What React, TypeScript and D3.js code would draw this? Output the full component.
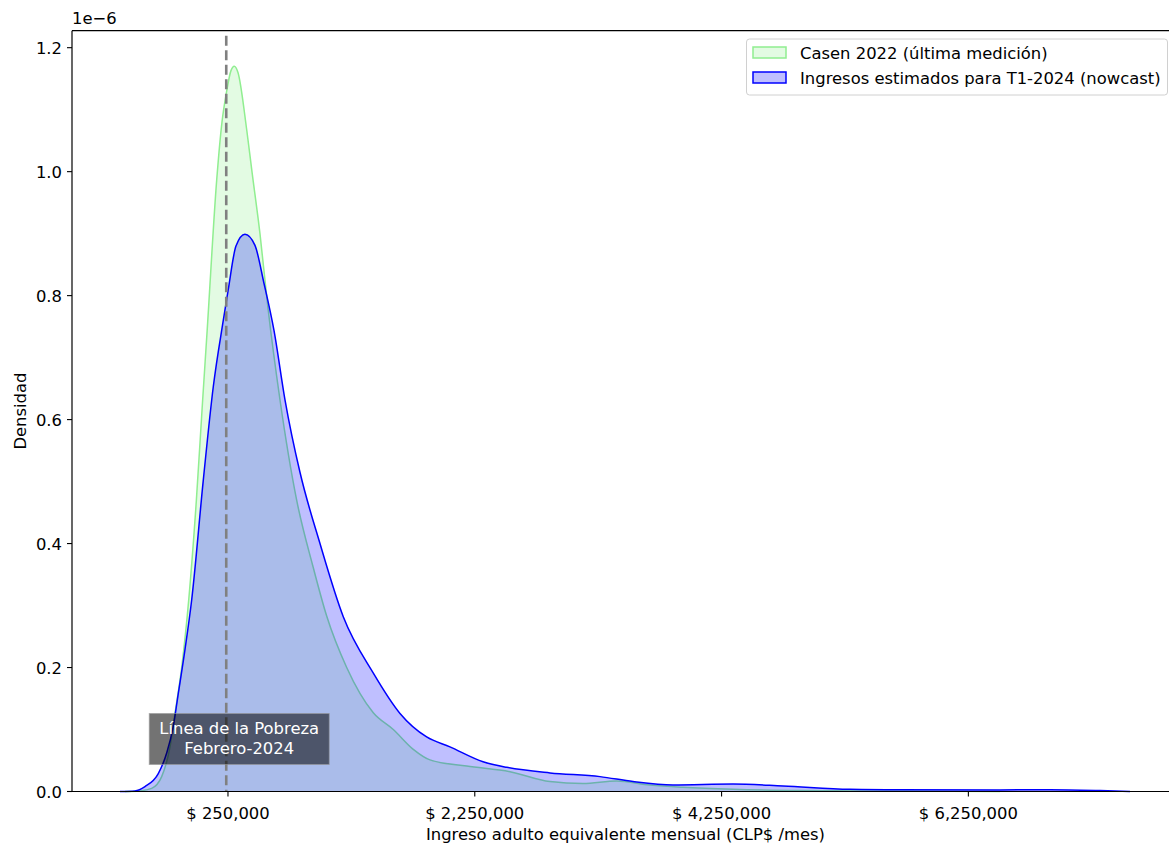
import React, {useRef, useEffect} from 'react';
import * as d3 from 'd3';

// ingreso (CLP$/mes) y densidad (en unidades de 1e-6)
const casenIncome = [-584700, -463200, -368300, -287300, -220000, -179500, -125200, -67700, -6100, 44900, 81400, 158400, 201400, 239500, 274300, 301100, 331000, 401500, 444500, 509300, 574200, 671400, 806700, 938800, 1049900, 1212000, 1427500, 1589600, 1751700, 1887000, 2184400, 2535300, 2859500, 3127000, 3400000, 3670000, 3937000, 4343000, 4886000, 5696000, 6506000];
const casenDensity = [0, 0.001, 0.005, 0.024, 0.072, 0.126, 0.2, 0.31, 0.47, 0.632, 0.744, 0.986, 1.08, 1.13, 1.163, 1.17, 1.16, 1.068, 1.0, 0.9, 0.78, 0.632, 0.47, 0.363, 0.283, 0.2, 0.127, 0.1, 0.068, 0.051, 0.041, 0.032, 0.016, 0.013, 0.017, 0.0105, 0.0068, 0.0035, 0.0016, 0.0008, 0];

const nowcastIncome = [-625200, -503700, -422600, -314800, -246800, -193300, -152800, -98500, -44200, 49800, 130900, 211900, 252400, 314800, 387700, 468800, 541700, 622800, 712000, 833500, 995600, 1184400, 1428000, 1644000, 1860000, 2049000, 2317000, 2509000, 2860000, 3265000, 3532000, 3856000, 4343000, 4748000, 5291000, 5696000, 6506000, 6911000, 7317000, 7560000];
const nowcastDensity = [0, 0.001, 0.008, 0.029, 0.062, 0.105, 0.158, 0.229, 0.309, 0.502, 0.653, 0.76, 0.81, 0.88, 0.899, 0.881, 0.82, 0.744, 0.632, 0.515, 0.4, 0.282, 0.191, 0.126, 0.088, 0.072, 0.048, 0.039, 0.03, 0.024, 0.016, 0.0105, 0.012, 0.009, 0.0035, 0.0027, 0.0025, 0.003, 0.0015, 0];

const xTicks = [250000, 2250000, 4250000, 6250000];
const yTicks = [0, 0.2, 0.4, 0.6, 0.8, 1.0, 1.2];
const povertyLine = 236000;
const legendLabels = ['Casen 2022 (última medición)', 'Ingresos estimados para T1-2024 (nowcast)'];

const W = 1169, H = 845;
const FONT = 'DejaVu Sans, sans-serif';
const FS = 16.4;

const App: React.FC = () => {
    const ref = useRef<SVGSVGElement | null>(null);

    useEffect(() => {
        const svg = d3.select(ref.current);
        svg.selectAll('*').remove();

        const left = 72, right = 1180, top = 30.7, bottom = 791.5;
        const x = d3.scaleLinear().domain([-1014000, 7965000]).range([left, right]);
        const y = d3.scaleLinear().domain([0, 1.2274]).range([bottom, top]);

        const area = d3.area<[number, number]>()
            .x(d => x(d[0])).y0(y(0)).y1(d => y(d[1]))
            .curve(d3.curveMonotoneX);
        const line = d3.line<[number, number]>()
            .x(d => x(d[0])).y(d => y(d[1]))
            .curve(d3.curveMonotoneX);

        const casen = casenIncome.map((v, i) => [v, casenDensity[i]] as [number, number]);
        const nowcast = nowcastIncome.map((v, i) => [v, nowcastDensity[i]] as [number, number]);

        const g = svg.append('g');
        // casen primero, nowcast encima
        g.append('path').attr('d', area(casen)).attr('fill', '#90ee90').attr('fill-opacity', 0.25);
        g.append('path').attr('d', line(casen)).attr('fill', 'none').attr('stroke', '#90ee90').attr('stroke-width', 1.5);
        g.append('path').attr('d', area(nowcast)).attr('fill', 'blue').attr('fill-opacity', 0.25);
        g.append('path').attr('d', line(nowcast)).attr('fill', 'none').attr('stroke', 'blue').attr('stroke-width', 1.5);

        // linea de pobreza
        g.append('line')
            .attr('x1', x(povertyLine)).attr('x2', x(povertyLine))
            .attr('y1', top + 5).attr('y2', bottom)
            .attr('stroke', '#808080').attr('stroke-width', 2.6)
            .attr('stroke-dasharray', '10,4.5');

        // caja de texto
        const bx = x(povertyLine) + 13;
        g.append('rect')
            .attr('x', bx - 90).attr('y', 713.5).attr('width', 180).attr('height', 51)
            .attr('fill', 'black').attr('fill-opacity', 0.55)
            .attr('stroke', '#999').attr('stroke-opacity', 0.6).attr('stroke-width', 1);
        const tb = g.append('text').attr('fill', 'white').attr('font-family', FONT)
            .attr('font-size', FS).attr('text-anchor', 'middle');
        tb.append('tspan').attr('x', bx).attr('y', 734).text('Línea de la Pobreza');
        tb.append('tspan').attr('x', bx).attr('y', 754).text('Febrero-2024');

        // ejes
        const ax = svg.append('g').attr('font-family', FONT).attr('font-size', FS).attr('fill', '#000');
        ax.append('line').attr('x1', left).attr('x2', W + 5).attr('y1', top).attr('y2', top).attr('stroke', '#000').attr('stroke-width', 1.2);
        ax.append('line').attr('x1', left).attr('x2', W + 5).attr('y1', bottom).attr('y2', bottom).attr('stroke', '#000').attr('stroke-width', 1.2);
        ax.append('line').attr('x1', left).attr('x2', left).attr('y1', top).attr('y2', bottom).attr('stroke', '#000').attr('stroke-width', 1.2);

        const fmtX = d3.format(',');
        xTicks.forEach(t => {
            ax.append('line').attr('x1', x(t)).attr('x2', x(t)).attr('y1', bottom).attr('y2', bottom + 5)
                .attr('stroke', '#000').attr('stroke-width', 1.1);
            ax.append('text').attr('x', x(t)).attr('y', bottom + 27).attr('text-anchor', 'middle')
                .text('$ ' + fmtX(t));
        });
        const fmtY = d3.format('.1f');
        yTicks.forEach(t => {
            ax.append('line').attr('x1', left - 5).attr('x2', left).attr('y1', y(t)).attr('y2', y(t))
                .attr('stroke', '#000').attr('stroke-width', 1.1);
            ax.append('text').attr('x', left - 10).attr('y', y(t) + 6).attr('text-anchor', 'end')
                .text(fmtY(t));
        });
        ax.append('text').attr('x', left).attr('y', 24).text('1e\u22126');
        ax.append('text').attr('x', (left + W) / 2 + 5).attr('y', 840).attr('text-anchor', 'middle')
            .text('Ingreso adulto equivalente mensual (CLP$ /mes)');
        ax.append('text').attr('transform', `translate(26, ${(top + bottom) / 2}) rotate(-90)`)
            .attr('text-anchor', 'middle').text('Densidad');

        // leyenda
        const lg = svg.append('g').attr('font-family', FONT).attr('font-size', FS);
        lg.append('rect').attr('x', 746.5).attr('y', 39).attr('width', 421).attr('height', 56).attr('rx', 3)
            .attr('fill', 'white').attr('fill-opacity', 0.8).attr('stroke', '#d0d0d0');
        const sw = [
            {fill: '#90ee90', stroke: '#90ee90'},
            {fill: 'blue', stroke: 'blue'}
        ];
        legendLabels.forEach((lab, i) => {
            const yy = 47 + i * 25;
            lg.append('rect').attr('x', 753).attr('y', yy).attr('width', 33).attr('height', 11)
                .attr('fill', sw[i].fill).attr('fill-opacity', 0.25)
                .attr('stroke', sw[i].stroke).attr('stroke-width', 1.5);
            lg.append('text').attr('x', 800).attr('y', yy + 11.5).text(lab);
        });
    }, []);

    return (
        <div style={{position: 'absolute', left: 0, top: 0}}>
            <svg ref={ref} width={W} height={H} style={{display: 'block', background: 'white'}} />
        </div>
    );
};

export default App;
